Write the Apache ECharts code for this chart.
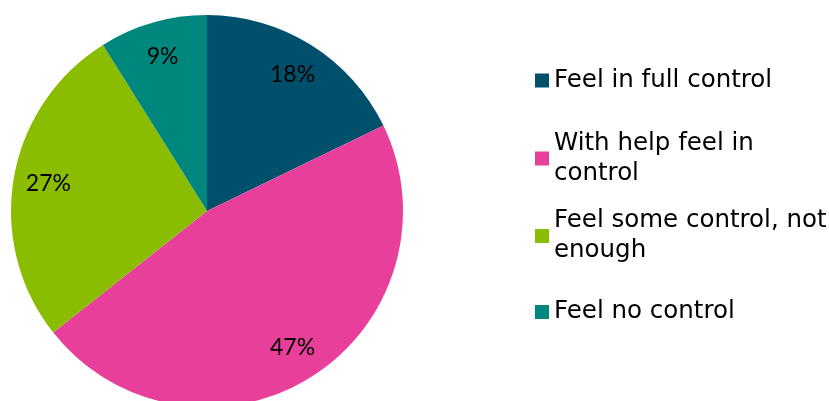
<!DOCTYPE html>
<html>
<head>
<meta charset="utf-8">
<script src="https://cdn.jsdelivr.net/npm/echarts@6/dist/echarts.min.js"></script>
<style>html,body{margin:0;padding:0;background:#fff;}#c{width:829px;height:401px;}</style>
</head>
<body>
<div id="c"></div>
<script>
const categories = ['Feel in full control', 'With help feel in control', 'Feel some control, not enough', 'Feel no control'];
const legendLabels = ['Feel in full control', 'With help feel in\ncontrol', 'Feel some control, not\nenough', 'Feel no control'];
const values = [18, 47, 27, 9];
const colors = ['#00506B', '#E8409A', '#8ABD00', '#00877D'];

const legendTops = [65.5, 113.5, 191, 297];
const twoLine = [false, true, true, false];

function render() {
  const chart = echarts.init(document.getElementById('c'));
  const legends = categories.map((name, i) => ({
    orient: 'vertical',
    left: 535,
    top: legendTops[i],
    padding: 0,
    itemWidth: 14,
    itemHeight: 14,
    itemGap: 5,
    icon: 'rect',
    selectedMode: false,
    formatter: () => legendLabels[i],
    textStyle: {
      fontFamily: 'DejaVu Sans',
      fontSize: 24.5,
      lineHeight: 30,
      color: '#000',
      padding: twoLine[i] ? [30, 0, 0, 0] : 0
    },
    data: [{ name: name, itemStyle: { color: colors[i] } }]
  }));

  chart.setOption({
    animation: false,
    legend: legends,
    series: [
      {
        type: 'pie',
        center: [207, 211],
        radius: [0, 196],
        startAngle: 90,
        clockwise: true,
        label: { show: false },
        labelLine: { show: false },
        itemStyle: { borderWidth: 0 },
        emphasis: { disabled: true },
        data: categories.map((n, i) => ({ name: n, value: values[i], itemStyle: { color: colors[i] } }))
      },
      {
        type: 'pie',
        center: [207, 211],
        radius: [148, 168],
        startAngle: 90,
        clockwise: true,
        silent: true,
        itemStyle: { color: 'rgba(0,0,0,0)', borderWidth: 0 },
        label: {
          show: true,
          position: 'inside',
          formatter: '{c}%',
          fontFamily: 'Lato, "Open Sans", sans-serif',
          fontSize: 23,
          color: '#000'
        },
        labelLine: { show: false },
        emphasis: { disabled: true },
        data: categories.map((n, i) => ({ name: n, value: values[i] }))
      }
    ]
  });
}

let done = false;
function go() { if (!done) { done = true; render(); } }
if (document.fonts && document.fonts.load) {
  Promise.all([document.fonts.load('23px Lato'), document.fonts.load('24.5px "DejaVu Sans"')]).then(go, go);
  setTimeout(go, 1500);
} else {
  go();
}
</script>
</body>
</html>
